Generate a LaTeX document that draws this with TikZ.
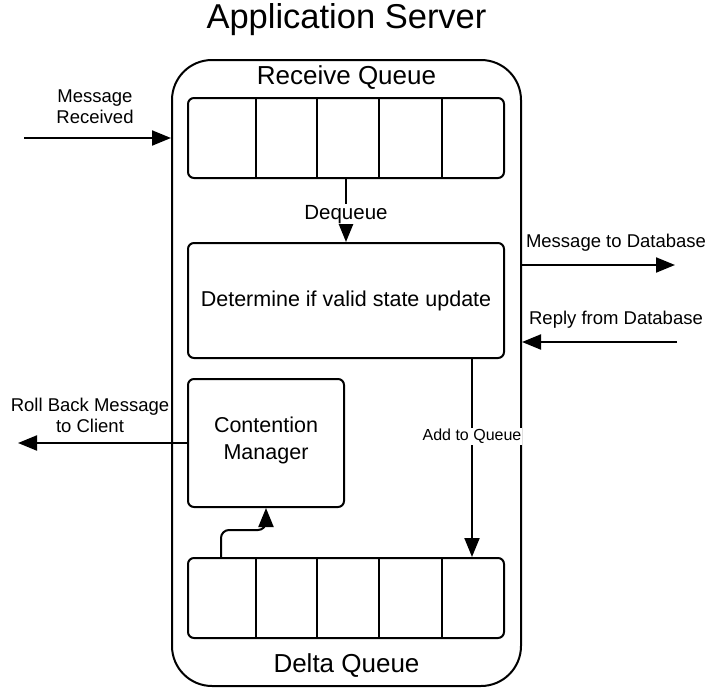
\documentclass[tikz,border=0pt]{standalone}
\usepackage{fontspec}
\setmainfont{Liberation Sans}
\usetikzlibrary{arrows.meta,calc}
\begin{document}
\begin{tikzpicture}[x=1pt,y=-1pt,
  every node/.style={inner sep=0pt},
  lbl/.style={font=\fontsize{18.5}{21}\selectfont, align=center},
  boxtext/.style={font=\fontsize{21.5}{27}\selectfont, align=center},
  qbox/.style={draw, line width=2pt, rounded corners=6pt, minimum width=316pt, minimum height=80pt},
  arrow/.style={line width=2pt, -{Triangle[length=19pt,width=15pt]}}]
\useasboundingbox (0,0) rectangle (707,688);
\node[draw, line width=2pt, rounded corners=40pt, minimum width=349pt, minimum height=626pt] (server) at (346.5,373) {};
\node[font=\fontsize{34.5}{40}\selectfont] (title) at (346.5,20) {Application Server};
\node[font=\fontsize{26}{30}\selectfont] (rqlabel) at (346.5,78) {Receive Queue};
\node[font=\fontsize{26}{30}\selectfont] (dqlabel) at (346.5,666) {Delta Queue};
% receive queue
\node[qbox] (rq) at (346,138) {};
\foreach \xx in {256,317,379,442} \draw[line width=2pt] (\xx,98) -- (\xx,178);
% determine
\node[draw, line width=2pt, rounded corners=6pt, minimum width=316pt, minimum height=115pt, boxtext] (det) at (346,300.5) {Determine if valid state update};
% contention
\node[draw, line width=2pt, rounded corners=6pt, minimum width=156pt, minimum height=128pt, boxtext, text depth=9pt] (cm) at (266,443) {Contention\\Manager};
% delta queue
\node[qbox] (dq) at (346,598) {};
\foreach \xx in {256,317,379,442} \draw[line width=2pt] (\xx,558) -- (\xx,638);
% dequeue
\draw[arrow] (rq.south) -- (det.north) node[pos=0.56, fill=white, inner sep=1pt, font=\fontsize{20.5}{24}\selectfont] {Dequeue};
% add to queue
\draw[arrow] ([xshift=126pt]det.south) -- ([xshift=126pt]dq.north) node[pos=0.39, fill=white, inner sep=1pt, font=\fontsize{16}{19}\selectfont] {Add to Queue};
% delta -> contention
\draw[arrow, rounded corners=8pt] ([xshift=-125pt]dq.north) -- ++(0,-27) -| (cm.south);
% external arrows
\coordinate (mr) at (24,138);
\draw[arrow] (mr) -- (mr -| server.west);
\node[lbl] (mrl) at (95,106.5) {Message\\Received};
\coordinate (mdb) at (675,265);
\draw[arrow] (mdb -| server.east) -- (mdb);
\node[lbl] (mdbl) at (616,243) {Message to Database};
\coordinate (rdb) at (677,342);
\draw[arrow] (rdb) -- (rdb -| server.east);
\node[lbl] (rdbl) at (616,320) {Reply from Database};
\coordinate (rb) at (18,443);
\draw[arrow] (cm.west) -- (rb);
\node[lbl] (rbl) at (90,415.5) {Roll Back Message\\to Client};
\end{tikzpicture}
\end{document}
